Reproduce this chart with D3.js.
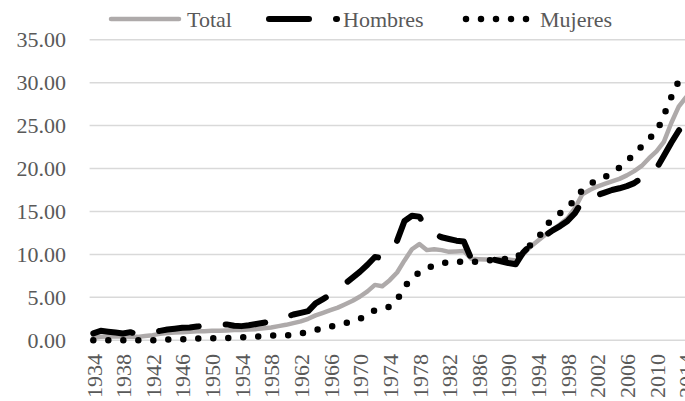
<!DOCTYPE html>
<html>
<head>
<meta charset="utf-8">
<script src="https://cdn.jsdelivr.net/npm/d3@7/dist/d3.min.js"></script>
<style>
  html, body { margin: 0; padding: 0; background: #fff; overflow: hidden; }
  svg { display: block; font-family: "Liberation Serif", "Times New Roman", serif; }
</style>
</head>
<body>
<svg id="chart" width="685" height="401"></svg>
<script>
// Years on the category axis
const years = d3.range(1934, 2015);

// Series values, one per year 1934–2014
const total = [
  0.30, 0.40, 0.45, 0.45, 0.45, 0.40, 0.40, 0.50, 0.60, 0.75,
  0.85, 0.90, 0.95, 1.00, 1.05, 1.05, 1.10, 1.10, 1.15, 1.20,
  1.20, 1.25, 1.30, 1.40, 1.50, 1.65, 1.80, 2.00, 2.20, 2.50,
  2.90, 3.20, 3.50, 3.80, 4.20, 4.60, 5.10, 5.70, 6.45, 6.30,
  7.00, 7.90, 9.30, 10.60, 11.20, 10.50, 10.60, 10.50, 10.30, 10.35,
  10.40, 9.50, 9.45, 9.40, 9.45, 9.50, 9.40, 9.30, 10.00, 10.90,
  11.60, 12.30, 12.90, 13.50, 14.20, 15.40, 17.00, 17.50, 17.90, 18.20,
  18.50, 18.80, 19.20, 19.70, 20.30, 21.20, 22.00, 23.10, 25.30, 27.20,
  28.30
];
const hombres = [
  0.80, 1.10, 1.00, 0.90, 0.80, 0.95, 0.70, 0.80, 0.95, 1.10,
  1.25, 1.35, 1.45, 1.50, 1.60, 1.70, 1.80, 1.85, 1.85, 1.70,
  1.65, 1.75, 1.90, 2.05, 2.20, 2.45, 2.70, 3.00, 3.20, 3.40,
  4.30, 4.80, 5.30, 5.90, 6.60, 7.30, 8.00, 8.80, 9.70, 9.60,
  10.40, 11.60, 13.90, 14.50, 14.40, 13.00, 12.40, 12.00, 11.80, 11.60,
  11.50, 9.50, 9.50, 9.45, 9.40, 9.20, 9.00, 8.85, 10.20, 11.10,
  11.80, 12.20, 12.80, 13.30, 13.90, 14.80, 16.20, 16.60, 16.90, 17.20,
  17.50, 17.70, 17.95, 18.30, 18.90, 19.40, 20.00, 21.50, 23.00, 24.40,
  25.40
];
const mujeres = [
  0.00, 0.00, 0.00, 0.00, 0.00, 0.00, 0.00, 0.00, 0.00, 0.05,
  0.08, 0.10, 0.12, 0.15, 0.20, 0.22, 0.23, 0.25, 0.27, 0.30,
  0.35, 0.40, 0.43, 0.50, 0.55, 0.55, 0.55, 0.65, 0.80, 1.00,
  1.20, 1.40, 1.60, 1.80, 2.00, 2.20, 2.50, 3.00, 3.50, 3.70,
  3.90, 4.70, 6.20, 7.30, 7.90, 8.40, 8.70, 8.95, 9.10, 9.20,
  9.10, 9.10, 9.20, 9.30, 9.35, 9.45, 9.50, 9.55, 10.30, 11.10,
  11.80, 13.30, 14.10, 14.80, 15.40, 16.40, 17.50, 18.20, 18.60, 19.00,
  19.50, 20.10, 20.90, 21.60, 22.60, 23.50, 24.20, 26.20, 28.30, 30.20,
  31.00
];

// Axis ticks
const yTicks = [0, 5, 10, 15, 20, 25, 30, 35];
const xTickYears = years.filter(y => (y - 1934) % 4 === 0);

const seriesNames = ["Total", "Hombres", "Mujeres"];

const svg = d3.select("#chart");
const labelColor = "#595959";

const x = d3.scalePoint().domain(years).range([89.6, 689.8]).padding(0.5);
const y = d3.scaleLinear().domain([0, 35]).range([340.3, 39.7]);

// Horizontal gridlines
svg.append("g")
  .selectAll("line")
  .data(yTicks)
  .join("line")
  .attr("x1", 89.6).attr("x2", 689.8)
  .attr("y1", d => y(d)).attr("y2", d => y(d))
  .attr("stroke", "#d9d9d9").attr("stroke-width", 1.5);

// Value axis labels
const yAxis = d3.axisLeft(y).tickValues(yTicks).tickFormat(d3.format(".2f")).tickSize(0).tickPadding(0);
const gy = svg.append("g").attr("transform", "translate(66,0)").call(yAxis);
gy.select(".domain").remove();
gy.selectAll("text")
  .attr("fill", labelColor)
  .style("font-size", "22px")
  .style("font-family", "Liberation Serif, Times New Roman, serif");

// Category axis labels, rotated
const xAxis = d3.axisBottom(x).tickValues(xTickYears).tickSize(0).tickPadding(0);
const gx = svg.append("g").attr("transform", "translate(0,354)").call(xAxis);
gx.select(".domain").remove();
gx.selectAll("text")
  .attr("fill", labelColor)
  .style("font-size", "22px")
  .style("font-family", "Liberation Serif, Times New Roman, serif")
  .attr("text-anchor", "end")
  .attr("transform", "rotate(-90)")
  .attr("x", 0)
  .attr("y", 0)
  .attr("dy", "0.35em");

const line = d3.line().x((d, i) => x(years[i])).y(d => y(d));

const styles = {
  Total:   { stroke: "#aeaaaa", width: 4.5, dash: null, cap: "round" },
  Hombres: { stroke: "#000000", width: 6,   dash: "40 27", cap: "round" },
  Mujeres: { stroke: "#000000", width: 6.5, dash: "0 15", cap: "round" }
};
const data = { Total: total, Hombres: hombres, Mujeres: mujeres };

seriesNames.forEach(name => {
  const s = styles[name];
  svg.append("path")
    .datum(data[name])
    .attr("d", line)
    .attr("fill", "none")
    .attr("stroke", s.stroke)
    .attr("stroke-width", s.width)
    .attr("stroke-linecap", s.cap)
    .attr("stroke-linejoin", "round")
    .attr("stroke-dasharray", s.dash);
});

// Legend
const legendItems = [
  { name: "Total",   x1: 111, x2: 179, tx: 187 },
  { name: "Hombres", x1: 269, x2: 337, tx: 343 },
  { name: "Mujeres", x1: 466, x2: 527, tx: 540 }
];
const lg = svg.append("g");
legendItems.forEach(it => {
  const s = styles[it.name];
  lg.append("line")
    .attr("x1", it.x1).attr("x2", it.x2)
    .attr("y1", 19).attr("y2", 19)
    .attr("stroke", s.stroke)
    .attr("stroke-width", s.width)
    .attr("stroke-linecap", s.cap)
    .attr("stroke-dasharray", s.dash);
  lg.append("text")
    .attr("x", it.tx).attr("y", 19).attr("dy", "0.35em")
    .attr("fill", labelColor)
    .style("font-size", "22px")
    .text(it.name);
});
</script>
</body>
</html>
